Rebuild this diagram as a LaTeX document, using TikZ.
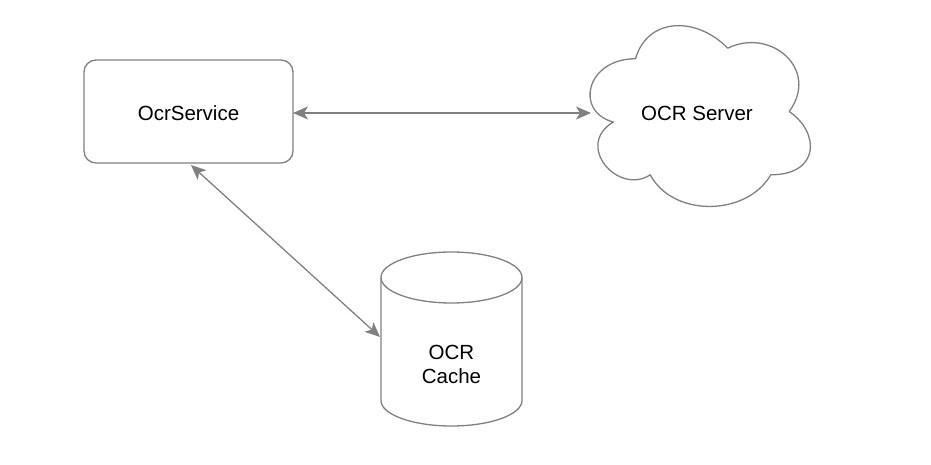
\documentclass[tikz,border=0pt]{standalone}
\usepackage{fontspec}
\setmainfont{Liberation Sans}
\usetikzlibrary{arrows.meta}
\definecolor{strk}{HTML}{808080}
\tikzset{
  shapeline/.style={draw=strk, line width=1.3pt},
  conn/.style={draw=strk, line width=1.3pt, {Stealth[length=15pt,width=13pt,inset=4pt]}-{Stealth[length=15pt,width=13pt,inset=4pt]}},
  lbl/.style={font=\fontsize{20.5}{24}\selectfont, text=black, align=center, inner sep=0pt}
}
\begin{document}
\begin{tikzpicture}[x=1pt,y=-1pt]
\useasboundingbox (0,0) rectangle (931,465);
% OcrService box
\node[shapeline, rounded corners=12pt, minimum width=209pt, minimum height=103pt, inner sep=0pt] (svc) at (188.5,111.5) {};
\node[lbl] (svclbl) at (188.5,113) {OcrService};
% Cloud (draw.io cloud path), bbox x0=574, y0=6, w=246, h=211
\begin{scope}[shift={(574,6)}, x=246pt, y=-211pt]
\draw[shapeline, line join=round] (0.25,0.25)
  .. controls (0.05,0.25) and (0,0.5) .. (0.16,0.55)
  .. controls (0,0.66) and (0.18,0.9) .. (0.31,0.8)
  .. controls (0.4,1) and (0.7,1) .. (0.8,0.8)
  .. controls (1,0.8) and (1,0.6) .. (0.875,0.5)
  .. controls (1,0.3) and (0.8,0.1) .. (0.625,0.2)
  .. controls (0.5,0.05) and (0.3,0.05) .. (0.25,0.25) -- cycle;
\end{scope}
\node[lbl] (srv) at (697,113) {OCR Server};
\coordinate (srvleft) at (591,113);
% Cylinder
\draw[shapeline] (381,277.5) -- (381,400.5) arc[start angle=180,end angle=360,x radius=70.5pt,y radius=25.5pt] -- (522,277.5);
\draw[shapeline] (451.5,277.5) ellipse[x radius=70.5pt, y radius=25.5pt];
\node[lbl] (cache) at (451.5,364) {OCR\\Cache};
\coordinate (cacheleft) at (380,337);
\coordinate (svcbot) at (191,165);
\coordinate (svcright) at (293,113);
% Connectors
\draw[conn] (svcright) -- (srvleft);
\draw[conn] (svcbot) -- (cacheleft);
\end{tikzpicture}
\end{document}
